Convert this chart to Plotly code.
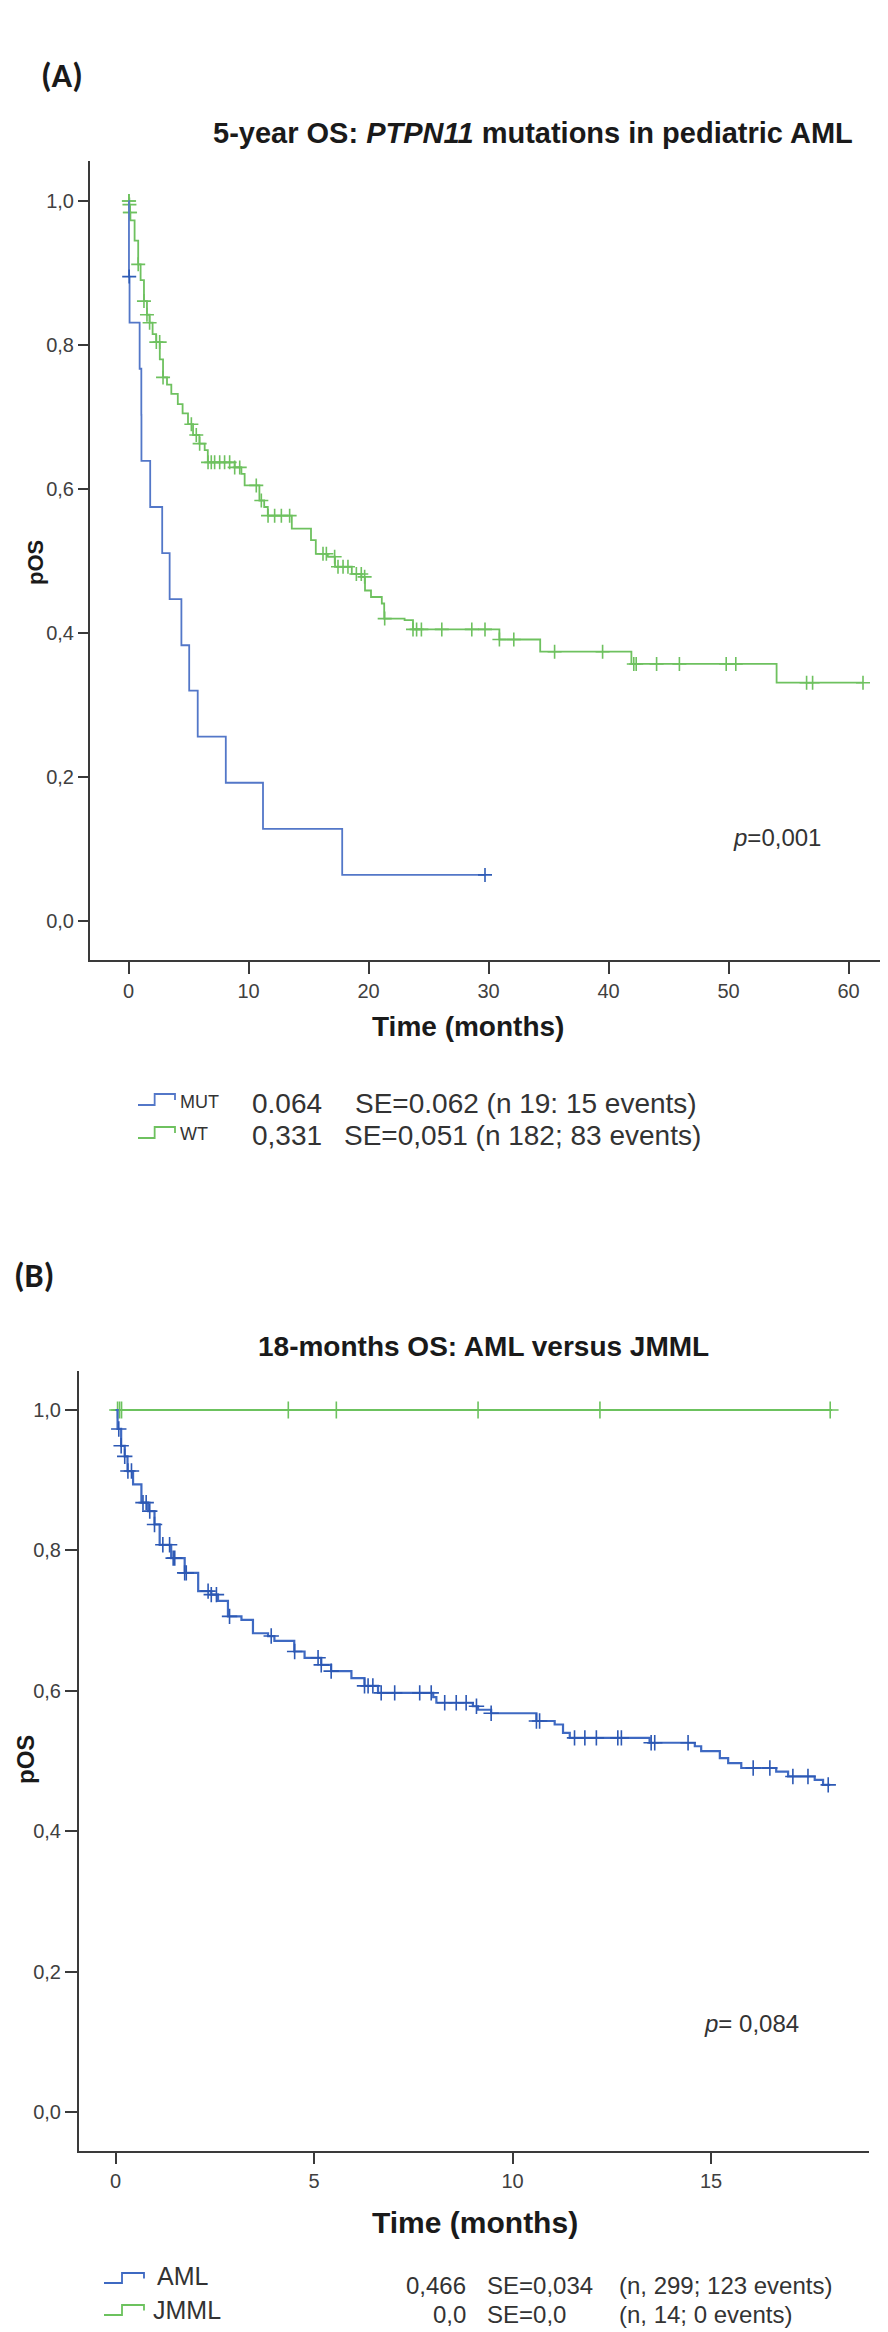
import numpy as np
import plotly.graph_objects as go

# ---------------- data ----------------
# Panel A: 5-year OS, PTPN11 MUT vs WT
mut_time = [0, 0.03, 0.08, 0.92, 1.06, 1.07, 1.8, 2.8, 3.42, 4.4, 5.05, 5.76, 8.1, 11.2, 17.8, 29.7]
mut_surv = [1.0, 0.895, 0.831, 0.767, 0.703, 0.639, 0.575, 0.511, 0.447, 0.383, 0.320, 0.256, 0.192, 0.128, 0.064, 0.064]
mut_censor = [0.05, 29.7]

wt_time = [0, 0.05, 0.1, 0.15, 0.5, 0.8, 1.0, 1.28, 1.53, 1.75, 2.0, 2.3, 2.6, 2.87, 3.2, 3.56,
           4.1, 4.5, 4.95, 5.37, 5.9, 6.34, 6.6, 8.84, 9.4, 9.67, 10.9, 11.3, 11.6, 13.6, 15.2,
           15.6, 16.6, 17.2, 18.6, 19.4, 19.7, 20.2, 21.1, 21.3, 23.0, 23.7, 30.9, 34.3, 41.9, 54.0, 61.2]
wt_surv = [1.0, 0.995, 0.984, 0.973, 0.945, 0.912, 0.89, 0.861, 0.842, 0.831, 0.815, 0.804, 0.78, 0.755, 0.745, 0.732,
           0.718, 0.705, 0.69, 0.675, 0.663, 0.654, 0.637, 0.63, 0.621, 0.605, 0.584, 0.575, 0.563, 0.545, 0.529,
           0.51, 0.506, 0.492, 0.482, 0.478, 0.459, 0.45, 0.441, 0.42, 0.418, 0.405, 0.391, 0.374, 0.357, 0.331, 0.331]
wt_censor = [0.02, 0.04, 0.07, 0.1, 0.12, 0.8, 1.28, 1.53, 1.75, 2.31, 2.59, 2.87, 5.23, 5.64, 5.92, 6.62, 6.89,
             7.17, 7.59, 8.0, 8.42, 8.84, 9.26, 10.64, 11.06, 11.62, 12.17, 12.73, 13.42, 16.2, 16.48, 17.17,
             17.45, 17.87, 18.28, 18.98, 19.39, 19.67, 21.34, 23.7, 24.0, 24.4, 26.1, 28.6, 29.7, 30.9, 32.1,
             35.5, 39.5, 42.1, 42.3, 44.0, 45.9, 49.8, 50.6, 56.5, 57.0, 61.2]

# Panel B: 18-months OS, AML vs JMML
aml_time = [0, 0.05, 0.14, 0.23, 0.3, 0.44, 0.65, 0.82, 0.98, 1.11, 1.4, 1.74, 2.08, 2.41, 2.58, 2.83,
            3.17, 3.46, 3.84, 4.0, 4.5, 4.76, 5.18, 5.43, 5.94, 6.27, 6.61, 8.0, 8.08, 9.0, 9.13, 9.46,
            10.6, 11.06, 11.27, 11.44, 13.45, 14.59, 14.75, 15.22, 15.43, 15.76, 16.64, 16.94, 17.61,
            17.82, 18.0]
aml_surv = [1.0, 0.973, 0.949, 0.934, 0.913, 0.894, 0.868, 0.856, 0.837, 0.808, 0.789, 0.768, 0.742, 0.737,
            0.728, 0.706, 0.701, 0.682, 0.678, 0.671, 0.656, 0.647, 0.637, 0.628, 0.618, 0.607, 0.597, 0.591,
            0.583, 0.578, 0.573, 0.568, 0.557, 0.552, 0.54, 0.533, 0.526, 0.521, 0.514, 0.504, 0.497, 0.49,
            0.485, 0.478, 0.473, 0.466, 0.466]
aml_censor = [0.08, 0.14, 0.23, 0.31, 0.4, 0.69, 0.77, 0.86, 0.98, 1.19, 1.36, 1.45, 1.49, 1.74, 1.78,
              2.33, 2.41, 2.54, 2.87, 3.92, 4.51, 5.1, 5.18, 5.43, 6.27, 6.36, 6.48, 6.69, 7.03, 7.66, 7.95,
              8.29, 8.58, 8.83, 9.09, 9.46, 10.6, 10.68, 11.56, 11.82, 12.11, 12.65, 12.74, 13.49, 13.58,
              14.42, 16.06, 16.48, 17.06, 17.44, 17.95]

jmml_time = [0, 18.05]
jmml_surv = [1.0, 1.0]
jmml_censor = [0.05, 0.1, 0.15, 4.35, 5.56, 9.13, 12.2, 18.0]

# ticks
a_xticks = [0, 10, 20, 30, 40, 50, 60]
b_xticks = [0, 5, 10, 15]
y_tickvals = [0.0, 0.2, 0.4, 0.6, 0.8, 1.0]
y_ticktext = ["0,0", "0,2", "0,4", "0,6", "0,8", "1,0"]

# legend / annotation text
a_title = "<b>5-year OS: <i>PTPN11</i> mutations in pediatric AML</b>"
b_title = "<b>18-months OS: AML versus JMML</b>"
a_groups = ["MUT", "WT"]
a_est = ["0.064", "0,331"]
a_se = ["SE=0.062 (n 19: 15 events)", "SE=0,051 (n 182; 83 events)"]
b_groups = ["AML", "JMML"]
b_est = ["0,466", "0,0"]
b_se = ["SE=0,034", "SE=0,0"]
b_n = ["(n, 299; 123 events)", "(n, 14; 0 events)"]

# ---------------- styling ----------------
W, H = 888, 2332
FONT = "Liberation Sans, Arial, sans-serif"
BLUE_A, BLUE_A_M = "#5377c8", "#2f5cb6"
GREEN_A = "#6ec15f"
BLUE_B, BLUE_B_M = "#3e69c2", "#2c58b4"
GREEN_B = "#6cc25e"
AX = "#3a3a3a"
TXT = "#1a1a1a"


def fx(px):
    return px / W


def fy(py):
    return 1 - py / H


def step_at(times, survs, t):
    times = np.asarray(times)
    survs = np.asarray(survs)
    idx = np.searchsorted(times, np.asarray(t), side="right") - 1
    return survs[np.clip(idx, 0, len(survs) - 1)]


fig = go.Figure()


def add_curve(xa, ya, times, survs, cens, color, mcolor, lw, msize):
    fig.add_trace(go.Scatter(x=times, y=survs, mode="lines", line=dict(color=color, width=lw, shape="hv"),
                             xaxis=xa, yaxis=ya, hoverinfo="skip", showlegend=False))
    fig.add_trace(go.Scatter(x=cens, y=step_at(times, survs, cens), mode="markers",
                             marker=dict(symbol="cross-thin", size=msize, line=dict(color=mcolor, width=1.6)),
                             xaxis=xa, yaxis=ya, hoverinfo="skip", showlegend=False))


add_curve("x", "y", wt_time, wt_surv, wt_censor, GREEN_A, GREEN_A, 1.8, 10)
add_curve("x", "y", mut_time, mut_surv, mut_censor, BLUE_A, BLUE_A_M, 1.8, 10)
add_curve("x2", "y2", jmml_time, jmml_surv, jmml_censor, GREEN_B, GREEN_B, 2.2, 12)
add_curve("x2", "y2", aml_time, aml_surv, aml_censor, BLUE_B, BLUE_B_M, 2.2, 11)

tickfont = dict(family=FONT, size=20, color="#404040")
common_ax = dict(showgrid=False, zeroline=False, showline=True, linecolor=AX, linewidth=2,
                 ticks="outside", tickcolor=AX, tickwidth=2, tickfont=tickfont)

# Panel A geometry (pixels)
A_L, A_R, A_T, A_B = 82, 883, 153, 952
A_X0, A_PPM = 120.6, 12.0
A_Y1, A_Y0 = 193, 913
# Panel B geometry
B_L, B_R, B_T, B_B = 71, 861, 1363, 2143
B_X0, B_PPM = 107.6, 39.7
B_Y1, B_Y0 = 1402, 2104


def yr(top, bot, y1, y0):
    u = y0 - y1
    return [(y0 - bot) / u, (y0 - top) / u]


fig.update_layout(
    width=W, height=H, margin=dict(l=0, r=0, t=0, b=0),
    paper_bgcolor="white", plot_bgcolor="white", showlegend=False,
    xaxis=dict(domain=[fx(A_L), fx(A_R)], range=[(A_L - A_X0) / A_PPM, (A_R - A_X0) / A_PPM],
               tickvals=a_xticks, ticklen=12, anchor="y", **common_ax),
    yaxis=dict(domain=[fy(A_B), fy(A_T)], range=yr(A_T, A_B, A_Y1, A_Y0),
               tickvals=y_tickvals, ticktext=y_ticktext, ticklen=10, anchor="x", **common_ax),
    xaxis2=dict(domain=[fx(B_L), fx(B_R)], range=[(B_L - B_X0) / B_PPM, (B_R - B_X0) / B_PPM],
                tickvals=b_xticks, ticklen=11, anchor="y2", **common_ax),
    yaxis2=dict(domain=[fy(B_B), fy(B_T)], range=yr(B_T, B_B, B_Y1, B_Y0),
                tickvals=y_tickvals, ticktext=y_ticktext, ticklen=12, anchor="x2", **common_ax),
)

ann = []


def txt(x, y, s, size, xanchor="left", bold=False, angle=0, color=TXT, family=FONT):
    ann.append(dict(x=fx(x), y=fy(y), xref="paper", yref="paper", text=s, showarrow=False,
                    xanchor=xanchor, yanchor="middle", textangle=angle,
                    font=dict(family=family, size=size, color=color)))


# Panel A texts
txt(54, 67, "<b>(A)</b>", 34, xanchor="center", family="Carlito, Liberation Sans, Arial")
txt(525, 125, a_title, 29, xanchor="center")
txt(27, 555, "<b>pOS</b>", 22, xanchor="center", angle=-90)
txt(460, 1018, "<b>Time (months)</b>", 28, xanchor="center")
txt(815, 830, "<i>p</i>=0,001", 24, xanchor="right", color="#333333")
rows_a = [1094, 1126]
for i in range(2):
    txt(170, rows_a[i], a_groups[i], 18, color="#333333")
    txt(242, rows_a[i] + 1, a_est[i], 28, color="#333333")
    txt(345 if i == 0 else 334, rows_a[i] + 1, a_se[i], 28, color="#333333")

# Panel B texts
txt(4, 1267, "<b>(B)</b>", 34, xanchor="left", family="Carlito, Liberation Sans, Arial")
txt(476, 1338, b_title, 28, xanchor="center")
txt(17, 1752, "<b>pOS</b>", 24, xanchor="center", angle=-90)
txt(467, 2214, "<b>Time (months)</b>", 30, xanchor="center")
txt(793, 2015, "<i>p</i>= 0,084", 24, xanchor="right", color="#333333")
rows_b_lab = [2268, 2302]
rows_b = [2277, 2306]
lab_x = [147, 143]
for i in range(2):
    txt(lab_x[i], rows_b_lab[i], b_groups[i], 25, color="#333333")
    txt(460, rows_b[i], b_est[i], 24, xanchor="right", color="#333333")
    txt(477, rows_b[i], b_se[i], 24, color="#333333")
    txt(609, rows_b[i], b_n[i], 24, color="#333333")

fig.update_layout(annotations=ann)

# legend step glyphs (decoration, paper coordinates)
shapes = []


def glyph(x0, w, ybase, h, color):
    xs = [x0, x0 + 0.45 * w, x0 + 0.45 * w, x0 + w, x0 + w]
    ys = [ybase, ybase, ybase - h, ybase - h, ybase - 0.45 * h]
    path = "M " + " L ".join(f"{fx(a):.5f},{fy(b):.5f}" for a, b in zip(xs, ys))
    shapes.append(dict(type="path", path=path, xref="paper", yref="paper",
                       line=dict(color=color, width=1.8)))


glyph(130, 37, 1097, 11, BLUE_A)
glyph(130, 37, 1130, 11, GREEN_A)
glyph(96, 40, 2275, 10, BLUE_B)
glyph(96, 40, 2307, 10, GREEN_B)
fig.update_layout(shapes=shapes)

fig.write_html("out.html")
